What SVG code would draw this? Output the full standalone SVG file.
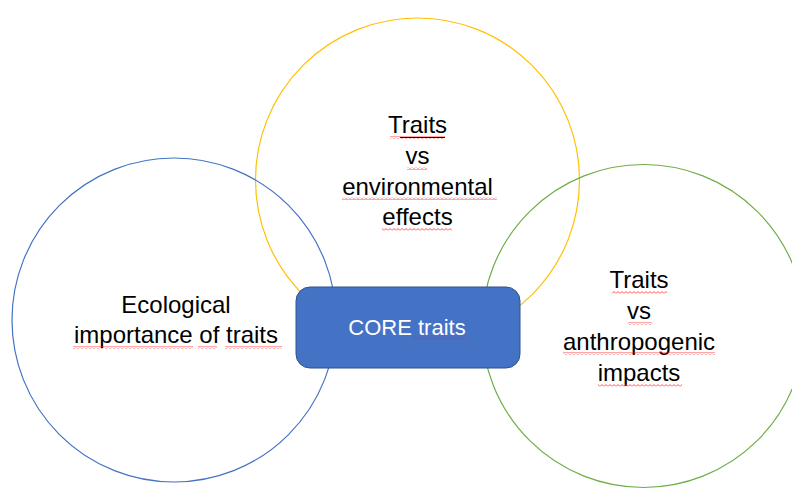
<svg xmlns="http://www.w3.org/2000/svg" width="792" height="489" viewBox="0 0 792 489">
  <style>
    .ring { fill: none; stroke-width: 1.2; }
    .label { font-family: "Liberation Sans", Arial, sans-serif; font-size: 24px; fill: #000; text-anchor: middle; }
    .core { font-family: "Liberation Sans", Arial, sans-serif; font-size: 22px; fill: #fff; text-anchor: middle; }
    .squiggle { fill: url(#wave); }
  </style>
  <defs>
    <!-- spell-check style wavy underline -->
    <pattern id="wave" patternUnits="userSpaceOnUse" width="4" height="3">
      <path d="M0 2.5 L2 0.5 L4 2.5" fill="none" stroke="#ff2020" stroke-width="0.8"/>
    </pattern>
  </defs>
  <rect width="792" height="489" fill="#fff"/>

  <g id="environmental">
    <circle class="ring" cx="417.5" cy="180" r="162" stroke="#FFC000"/>
    <text class="label" x="417.5" y="133">Traits</text>
    <text class="label" x="417.5" y="164">vs</text>
    <text class="label" x="417.5" y="195">environmental</text>
    <text class="label" x="417.5" y="225">effects</text>
    <line x1="400" y1="137.5" x2="445" y2="137.5" stroke="#000" stroke-width="1.2"/>
    <rect class="squiggle" x="390" y="136" width="55" height="3"/>
    <rect class="squiggle" x="407" y="167" width="20" height="3"/>
    <rect class="squiggle" x="342" y="197" width="155" height="3"/>
    <rect class="squiggle" x="382" y="228" width="70" height="3"/>
  </g>

  <g id="ecological">
    <circle class="ring" cx="174" cy="320" r="162" stroke="#4472C4"/>
    <text class="label" x="176" y="313">Ecological</text>
    <text class="label" x="176" y="343">importance of traits</text>
    <rect class="squiggle" x="73" y="346" width="120" height="3"/>
    <rect class="squiggle" x="198" y="346" width="19" height="3"/>
    <rect class="squiggle" x="225" y="346" width="57" height="3"/>
  </g>

  <g id="anthropogenic">
    <circle class="ring" cx="643.5" cy="326" r="161.5" stroke="#70AD47"/>
    <text class="label" x="639" y="288">Traits</text>
    <text class="label" x="639" y="319">vs</text>
    <text class="label" x="639" y="350">anthropogenic</text>
    <text class="label" x="639" y="381">impacts</text>
    <rect class="squiggle" x="612" y="291" width="55" height="3"/>
    <rect class="squiggle" x="628" y="322" width="24" height="3"/>
    <rect class="squiggle" x="563" y="352" width="152" height="3"/>
    <rect class="squiggle" x="598" y="384" width="84" height="3"/>
  </g>

  <g id="core">
    <rect x="296" y="287" width="224" height="81" rx="14" ry="14" fill="#4472C4" stroke="#2F528F" stroke-width="1"/>
    <text class="core" x="407" y="335">CORE traits</text>
    <rect class="squiggle" x="412" y="337" width="55" height="3"/>
  </g>
</svg>
